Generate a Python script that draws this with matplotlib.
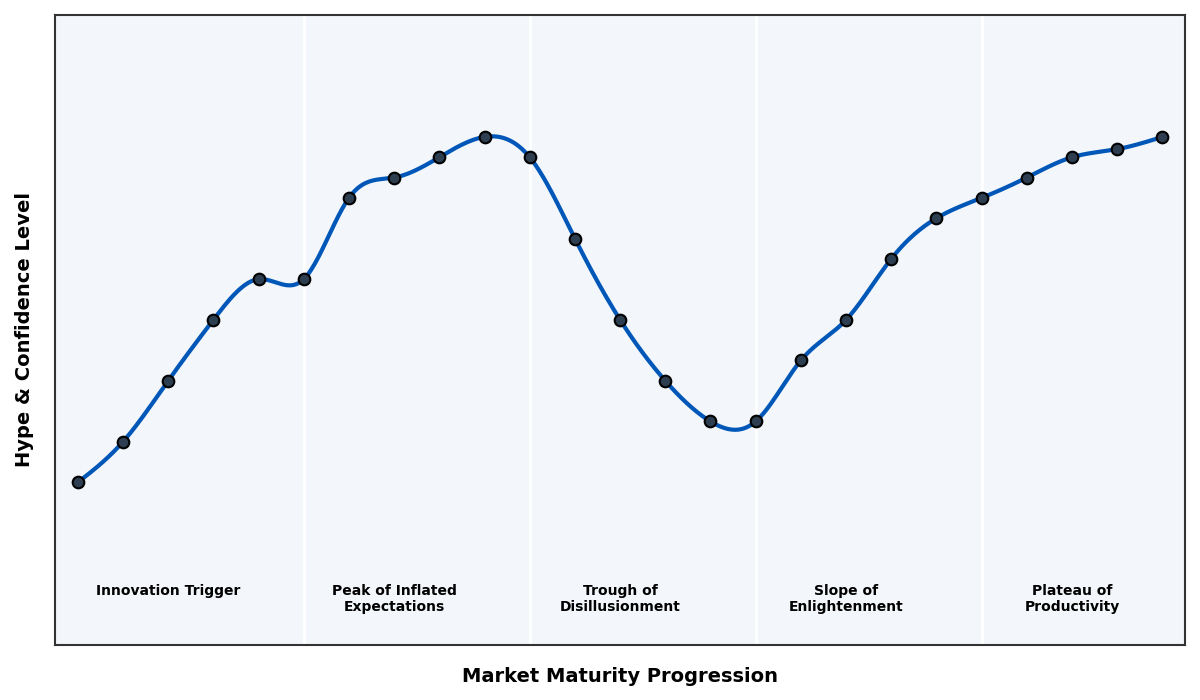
import numpy as np
import matplotlib
matplotlib.use("Agg")
import matplotlib.pyplot as plt

# Hype cycle data points (one per step)
stage_idx = list(range(25))
hype_level = [10, 20, 35, 50, 60, 60, 80, 85, 90, 95, 90, 70, 50, 35, 25,
              25, 40, 50, 65, 75, 80, 85, 90, 92, 95]

phase_names = ["Innovation Trigger", "Peak of Inflated\nExpectations",
               "Trough of\nDisillusionment", "Slope of\nEnlightenment",
               "Plateau of\nProductivity"]
phase_bounds = [5, 10, 15, 20]
phase_centers = [2, 7, 12, 17, 22]


def natural_spline(x, y, n=600):
    """Natural cubic spline through (x, y), evaluated on a dense grid."""
    x = np.asarray(x, float)
    y = np.asarray(y, float)
    m = len(x)
    h = np.diff(x)
    A = np.zeros((m, m))
    b = np.zeros(m)
    A[0, 0] = A[-1, -1] = 1.0
    for i in range(1, m - 1):
        A[i, i - 1] = h[i - 1]
        A[i, i] = 2 * (h[i - 1] + h[i])
        A[i, i + 1] = h[i]
        b[i] = 3 * ((y[i + 1] - y[i]) / h[i] - (y[i] - y[i - 1]) / h[i - 1])
    c = np.linalg.solve(A, b)
    bb = (y[1:] - y[:-1]) / h - h * (2 * c[:-1] + c[1:]) / 3
    d = (c[1:] - c[:-1]) / (3 * h)
    xs = np.linspace(x[0], x[-1], n)
    k = np.clip(np.searchsorted(x, xs) - 1, 0, m - 2)
    dx = xs - x[k]
    ys = y[k] + bb[k] * dx + c[k] * dx**2 + d[k] * dx**3
    return xs, ys


fig, ax = plt.subplots(figsize=(12, 7), dpi=100)
fig.subplots_adjust(left=0.046, right=0.9875, top=0.9786, bottom=0.0786)
ax.set_facecolor("#f3f6fa")

for xb in phase_bounds:
    ax.axvline(xb, color="white", linewidth=2, zorder=1)

xs, ys = natural_spline(stage_idx, hype_level)
ax.plot(xs, ys, color="#0057b8", linewidth=3, zorder=2)
ax.scatter(stage_idx, hype_level, s=70, color="#2c3e50", edgecolor="black",
           linewidth=1.5, zorder=3)

for xc, name in zip(phase_centers, phase_names):
    ax.text(xc, -15, name, ha="center", va="top", fontsize=10,
            fontweight="bold")

ax.set_xlim(-0.5, 24.5)
ax.set_ylim(-30, 125)
ax.set_xticks([])
ax.set_yticks([])
for sp in ax.spines.values():
    sp.set_color("#333333")
    sp.set_linewidth(1.5)

ax.set_xlabel("Market Maturity Progression", fontsize=14, fontweight="bold", labelpad=16)
ax.set_ylabel("Hype & Confidence Level", fontsize=14, fontweight="bold", labelpad=15)

fig.savefig("out.png", dpi=100)
